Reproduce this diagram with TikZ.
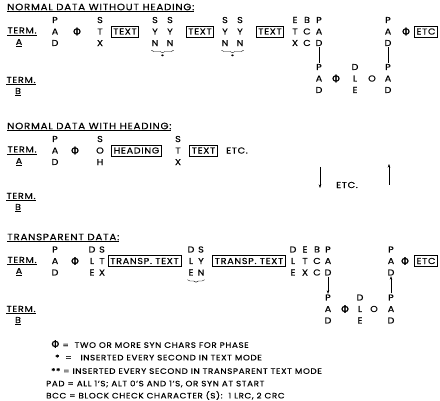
\documentclass[tikz,border=0pt]{standalone}
\usepackage{fontspec}
\setmainfont{Poppins}[FakeStretch=1.12,LetterSpace=8,FakeBold=0.4]
\newfontfamily\phifont{DejaVu Sans}[FakeBold=0.6]
\newcommand{\phichr}{{\phifont\fontsize{10.5}{10.5}\selectfont Φ}}
\usetikzlibrary{arrows.meta,decorations.pathreplacing,positioning}

\begin{document}
\begin{tikzpicture}[x=1pt,y=-1pt,>={Stealth[length=3.5pt,width=2.5pt]},
  lt/.style={font=\fontsize{8.6}{11.5}\selectfont,inner sep=0pt,align=center},
  bx/.style={lt,draw,line width=0.7pt,inner xsep=2pt,inner ysep=0pt,minimum height=11pt},
  br/.style={decorate,decoration={brace,mirror,amplitude=2.5pt},thin},
  hd/.style={lt,anchor=west,font=\fontsize{9.2}{11}\selectfont},
  lg/.style={lt,anchor=west,font=\fontsize{7.8}{11}\selectfont}]
  \useasboundingbox (0,0) rectangle (440,401);

  \node[hd] (title1) at (7,8) {\underline{NORMAL DATA WITHOUT HEADING:}};
  \node[lt] (terma1) at (22,31.5) {\underline{TERM.}};
  \node[lt] (a1) at (19,43) {\underline{A}};
  \node[lt] (pad11) at (55,31.5) {P\\A\\D};
  \node[lt] (ph11) at (77,31.5) {\phichr};
  \node[lt] (stx11) at (100,31.5) {S\\T\\X};
  \node[bx] (text11) at (125,31.5) {TEXT};
  \node[lt] (syn11) at (155,31.5) {S\\Y\\N};
  \node[lt] (syn12) at (170,31.5) {S\\Y\\N};
  \node[bx] (text12) at (200,31.5) {TEXT};
  \node[lt] (syn13) at (225,31.5) {S\\Y\\N};
  \node[lt] (syn14) at (240,31.5) {S\\Y\\N};
  \node[bx] (text13) at (270,31.5) {TEXT};
  \node[lt] (etx11) at (295,31.5) {E\\T\\X};
  \node[lt] (bcc11) at (307,31.5) {B\\C\\C};
  \node[lt] (pad12) at (319,31.5) {P\\A\\D};
  \node[lt] (pad13) at (319,78.5) {P\\A\\D};
  \node[lt] (ph12) at (336,78.5) {\phichr};
  \node[lt] (dle11) at (355,78.5) {D\\L\\E};
  \node[lt] (o11) at (372,78.5) {O};
  \node[lt] (pad14) at (388,78.5) {P\\A\\D};
  \node[lt] (pad15) at (388,31.5) {P\\A\\D};
  \node[lt] (ph13) at (406,31.5) {\phichr};
  \node[bx] (etc11) at (426,31.5) {ETC};
  \node[lt] (termb1) at (21,81) {\underline{TERM.}};
  \node[lt] (b1) at (18,92) {\underline{B}};
  \draw[br] ([yshift=-4pt]syn11.south west) -- ([yshift=-4pt]syn12.south east)
    node[midway,below=4pt,lt,font=\tiny] {*};
  \draw[br] ([yshift=-4pt]syn13.south west) -- ([yshift=-4pt]syn14.south east)
    node[midway,below=4pt,lt,font=\tiny] {*};
  \draw[shorten >=1pt,shorten <=1pt] (pad12) -- (pad13);
  \draw[shorten >=1pt,shorten <=1pt] (pad14) -- (pad15);

  \node[hd] (title2) at (7,127) {\underline{NORMAL DATA WITH HEADING:}};
  \node[lt] (terma2) at (22,150.5) {\underline{TERM.}};
  \node[lt] (a2) at (19,162) {\underline{A}};
  \node[lt] (pad21) at (55,150.5) {P\\A\\D};
  \node[lt] (ph21) at (75,150.5) {\phichr};
  \node[lt] (soh21) at (100,150.5) {S\\O\\H};
  \node[bx] (head21) at (136.5,150.5) {HEADING};
  \node[lt] (stx21) at (178,150.5) {S\\T\\X};
  \node[bx] (text21) at (203.5,150.5) {TEXT};
  \node[lt] (etc21) at (237,150.5) {ETC.};
  \node[lt] (etc22) at (347,185) {ETC.};
  \coordinate (dn1) at (320,167);
  \coordinate (dn2) at (320,188);
  \coordinate (up1) at (389,185);
  \coordinate (up2) at (389,164);
  \draw[->] (dn1) -- (dn2);
  \draw[->] (up1) -- (up2);
  \node[lt] (termb2) at (21,197) {\underline{TERM.}};
  \node[lt] (b2) at (18,208) {\underline{B}};

  \node[hd] (title3) at (7,238) {\underline{TRANSPARENT DATA:}};
  \node[lt] (terma3) at (22,261) {\underline{TERM.}};
  \node[lt] (a3) at (19,272) {\underline{A}};
  \node[lt] (pad31) at (55,261) {P\\A\\D};
  \node[lt] (ph31) at (75,261) {\phichr};
  \node[lt] (dle31) at (92,261) {D\\L\\E};
  \node[lt] (stx31) at (102,261) {S\\T\\X};
  \node[bx,minimum width=73pt] (tt31) at (144.5,261) {TRANSP. TEXT};
  \node[lt] (dle32) at (191,261) {D\\L\\E};
  \node[lt] (syn31) at (201,261) {S\\Y\\N};
  \node[bx,minimum width=68pt] (tt32) at (249,261) {TRANSP. TEXT};
  \node[lt] (dle33) at (293,261) {D\\L\\E};
  \node[lt] (etx31) at (305,261) {E\\T\\X};
  \node[lt] (bcc31) at (317,261) {B\\C\\C};
  \node[lt] (pad32) at (328,261) {P\\A\\D};
  \node[lt] (pad33) at (328,309) {P\\A\\D};
  \node[lt] (ph32) at (345,309) {\phichr};
  \node[lt] (dle34) at (360,309) {D\\L\\E};
  \node[lt] (o31) at (374,309) {O};
  \node[lt] (pad34) at (391,309) {P\\A\\D};
  \node[lt] (pad35) at (391,261) {P\\A\\D};
  \node[lt] (ph33) at (405,261) {\phichr};
  \node[bx,line width=1pt] (etc31) at (426,261) {ETC};
  \draw[br] ([yshift=-4pt]dle32.south west) -- ([yshift=-4pt]syn31.south east);
  \draw[->,shorten >=0.5pt,shorten <=1pt] (pad32) -- (pad33);
  \draw[->,shorten >=0.5pt,shorten <=1pt] (pad34) -- (pad35);
  \node[lt] (termb3) at (21,310) {\underline{TERM.}};
  \node[lt] (b3) at (18,321) {\underline{B}};

  \node[lg] (key1) at (51,344) {\phichr\ = \ TWO OR MORE SYN CHARS FOR PHASE};
  \node[lg] (key2) at (55,357.5) {*\ \ = \ \ INSERTED EVERY SECOND IN TEXT MODE};
  \node[lg] (key3) at (51,371) {** = INSERTED EVERY SECOND IN TRANSPARENT TEXT MODE};
  \node[lg] (key4) at (46,384) {PAD = ALL 1'S; ALT 0'S AND 1'S, OR SYN AT START};
  \node[lg] (key5) at (46,395.5) {BCC = BLOCK CHECK CHARACTER (S):\ \ 1 LRC, 2 CRC};
\end{tikzpicture}
\end{document}
